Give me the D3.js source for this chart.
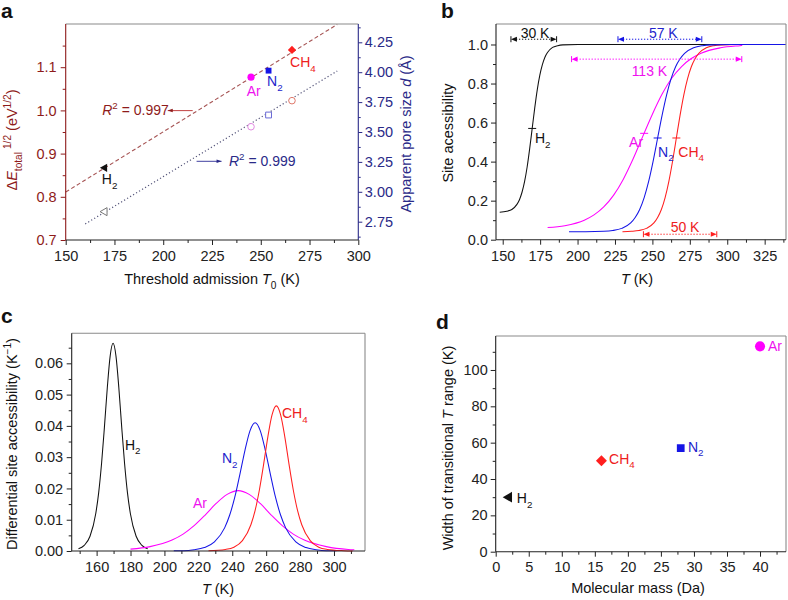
<!DOCTYPE html>
<html><head><meta charset="utf-8">
<script src="https://cdn.jsdelivr.net/npm/d3@7"></script>
<style>body{margin:0;background:#fff} svg{display:block}</style>
</head><body><svg id="chart" width="788" height="600"></svg>
<script>
// ================= DATA =================
// Panel a: threshold admission T0 vs sqrt(ΔE) and apparent pore size
const gasesA = ["H2", "Ar", "N2", "CH4"];
const t0 = [170, 245, 254, 266];
const energyRoot = [0.867, 1.077, 1.092, 1.140];
const poreSize = [2.834, 3.544, 3.642, 3.762];
const energyFitT = [150, 289.2];
const energyFitV = [0.811, 1.199];
const poreFitT = [160, 289.2];
const poreFitV = [2.731, 4.010];
const aXTicks = [150, 175, 200, 225, 250, 275, 300];
const aYTicks = [0.7, 0.8, 0.9, 1.0, 1.1];
const aY2Ticks = [2.75, 3.00, 3.25, 3.50, 3.75, 4.00, 4.25];
const aLabelT = [168.5, 242.8, 253.2, 265];
const aLabelV = [0.829, 1.033, 1.056, 1.100];
const r2Text = ["0.997", "0.999"];

// Panel b: site accessibility vs T  ([T (K), accessibility])
const bH2 = [[148,0.141],[152.7,0.146],[156.1,0.155],[159.5,0.181],[161.2,0.205],[162.9,0.243],[164.6,0.297],[166.3,0.371],[168.0,0.465],[169.7,0.570],[171.4,0.675],[173.1,0.769],[174.8,0.843],[176.5,0.897],[178.2,0.935],[179.9,0.959],[183.3,0.985],[186.7,0.994],[190.1,0.998],[200.3,1.0],[339,1.0]];
const bAr = [[180,0.062],[191.5,0.072],[204.5,0.100],[211,0.127],[217.5,0.168],[224,0.227],[230.5,0.309],[237,0.412],[243.5,0.528],[250,0.643],[256.5,0.746],[263,0.828],[269.5,0.887],[276,0.928],[282.5,0.955],[295.5,0.983],[308.5,0.994],[310,0.995]];
const bN2 = [[194.3,0.041],[205.5,0.041],[217.5,0.043],[223.5,0.047],[229.5,0.058],[235.5,0.086],[238.5,0.114],[241.5,0.155],[244.5,0.216],[247.5,0.299],[250.5,0.403],[253.5,0.521],[256.5,0.638],[259.5,0.742],[262.5,0.825],[265.5,0.886],[268.5,0.927],[271.5,0.955],[277.5,0.983],[283.5,0.994],[289.5,0.998],[301.5,1.0],[339,1.0]];
const bCH4 = [[230,0.041],[236,0.043],[241,0.047],[246,0.058],[251,0.086],[253.5,0.114],[256,0.155],[258.5,0.216],[261,0.299],[263.5,0.403],[266,0.521],[268.5,0.638],[271,0.742],[273.5,0.825],[276,0.886],[278.5,0.927],[281,0.955],[286,0.983],[291,0.994],[296,0.998],[306,1.0],[320,1.0]];
const bMidT = [169.7, 244.5, 253.5, 266];
const bMidV = [0.570, 0.545, 0.521, 0.521];
const bLabelT = [171.5, 243.8, 253.8, 267.3];
const bLabelV = [0.493, 0.476, 0.425, 0.425];
const bXTicks = [150, 175, 200, 225, 250, 275, 300, 325];
const bYTicks = [0.0, 0.2, 0.4, 0.6, 0.8, 1.0];
const spanText = ["30 K", "57 K", "113 K", "50 K"];
const spanFrom = [155.5, 227, 196, 244];
const spanTo = [186, 283, 309.7, 293];
const spanLevel = [1.027, 1.027, 0.925, 0.028];
const spanLabelT = [171.6, 257.3, 248, 271.8];
const spanLabelV = [1.034, 1.034, 0.838, 0.041];

// Panel c: differential site accessibility ([T (K), K^-1])
const cH2 = [[149.3,0.0007],[152.7,0.0018],[156.1,0.0047],[159.5,0.0120],[161.2,0.0186],[162.9,0.0279],[164.6,0.0396],[166.3,0.0522],[168.0,0.0624],[169.7,0.0664],[171.4,0.0624],[173.1,0.0522],[174.8,0.0396],[176.5,0.0279],[178.2,0.0186],[179.9,0.0120],[183.3,0.0047],[186.7,0.0018],[190.1,0.0007]];
const cAr = [[180,0.0006],[191.5,0.0014],[204.5,0.0035],[211,0.0054],[217.5,0.0081],[224,0.0115],[230.5,0.0152],[237,0.0181],[243.5,0.0193],[250,0.0181],[256.5,0.0152],[263,0.0115],[269.5,0.0081],[276,0.0054],[282.5,0.0035],[295.5,0.0014],[308.5,0.0005],[312,0.0004]];
const cN2 = [[205.5,0.0001],[211.5,0.0001],[217.5,0.0004],[223.5,0.0011],[229.5,0.0029],[235.5,0.0074],[238.5,0.0115],[241.5,0.0172],[244.5,0.0245],[247.5,0.0322],[250.5,0.0385],[253.5,0.0410],[256.5,0.0385],[259.5,0.0322],[262.5,0.0245],[265.5,0.0172],[268.5,0.0115],[271.5,0.0074],[277.5,0.0029],[283.5,0.0011],[289.5,0.0004],[295.5,0.0001],[301.5,0.0001]];
const cCH4 = [[226,0.0001],[236,0.0005],[241,0.0012],[246,0.0033],[251,0.0084],[253.5,0.0130],[256,0.0195],[258.5,0.0277],[261,0.0365],[263.5,0.0436],[266,0.0464],[268.5,0.0436],[271,0.0365],[273.5,0.0277],[276,0.0195],[278.5,0.0130],[281,0.0084],[286,0.0033],[291,0.0012],[296,0.0005],[306,0.0001],[311,0.0000]];
const cLabelT = [176.7, 216.8, 233.9, 269.3];
const cLabelV = [0.0323, 0.0137, 0.0280, 0.0424];
const cXTicks = [160, 180, 200, 220, 240, 260, 280, 300];
const cYTicks = [0.00, 0.01, 0.02, 0.03, 0.04, 0.05, 0.06];

// Panel d: width of transitional T range vs molecular mass
const gasesD = ["H2", "CH4", "N2", "Ar"];
const molMass = [2, 16, 28, 40];
const widthT = [30, 50, 57, 113];
const dLabelM = [3.2, 17.15, 29.1, 41.2];
const dLabelW = [26.6, 48.3, 55.0, 110.6];
const dXTicks = [0, 5, 10, 15, 20, 25, 30, 35, 40];
const dYTicks = [0, 20, 40, 60, 80, 100];

// ================= STYLE =================
const FONT = "'Liberation Sans', Arial, Helvetica, sans-serif";
const TFS = 14.5;
const COL = {H2: "#111111", Ar: "#ff00ff", N2: "#1515e6", CH4: "#ff1f1f"};
const LABCOL = {H2: "#111111", Ar: "#ee11ee", N2: "#2323cc", CH4: "#ee2020"};
const DARKRED = "#8e1b1b", NAVY = "#2a2a88", BORDER = "#8a8a8a", AXIS = "#222";

const svg = d3.select("#chart").attr("font-family", FONT);

function rich(sel, parts, size) {
  let shift = 0;
  parts.forEach(p => {
    const target = p.sub ? size * 0.32 : p.sup ? -size * 0.42 : 0;
    const ts = sel.append("tspan").text(p.t).attr("dy", target - shift);
    if (p.dx) ts.attr("dx", p.dx);
    shift = target;
    if (p.sub || p.sup) ts.style("font-size", (size * 0.7) + "px");
    if (p.i) ts.style("font-style", "italic");
  });
  return sel;
}
function gasParts(name) {
  const m = name.match(/^([A-Za-z]+?)(\d*)$/);
  if (!m[2]) return [{t: name}];
  return [{t: m[1]}, {t: m[2], sub: true}];
}
function drawAxis(parent, orient, scale, pos, majors, minors, fmt, color, pad, len) {
  len = len || 5;
  const ctor = {bottom: d3.axisBottom, left: d3.axisLeft, right: d3.axisRight}[orient];
  const tr = orient === "bottom" ? `translate(0,${pos})` : `translate(${pos},0)`;
  const gmin = parent.append("g").attr("transform", tr)
    .call(ctor(scale).tickValues(minors).tickSize(len * 0.6).tickFormat(""));
  gmin.select(".domain").remove();
  gmin.selectAll("line").attr("stroke", color);
  const g = parent.append("g").attr("transform", tr)
    .call(ctor(scale).tickValues(majors).tickSize(len).tickPadding(pad).tickFormat(fmt));
  g.select(".domain").remove();
  g.attr("font-family", FONT).attr("font-size", TFS);
  g.selectAll("line").attr("stroke", color);
  g.selectAll("text").attr("fill", color);
  return g;
}
function box(x0, x1, y0, y1, cl, cb, cr, ct) {
  const g = svg.append("g").attr("stroke-width", 1.1);
  g.append("line").attr("x1", x0).attr("x2", x1).attr("y1", y0).attr("y2", y0).attr("stroke", ct);
  g.append("line").attr("x1", x1).attr("x2", x1).attr("y1", y0).attr("y2", y1).attr("stroke", cr);
  g.append("line").attr("x1", x0).attr("x2", x1).attr("y1", y1).attr("y2", y1).attr("stroke", cb);
  g.append("line").attr("x1", x0).attr("x2", x0).attr("y1", y0).attr("y2", y1).attr("stroke", cl);
}
function panelLetter(t, x, y) {
  svg.append("text").attr("x", x).attr("y", y).text(t)
    .attr("font-weight", "bold").attr("font-size", 21).attr("fill", "#111");
}
function rotTitle(x, y, parts, color) {
  rich(svg.append("text").attr("transform", `translate(${x},${y}) rotate(-90)`)
    .attr("text-anchor", "middle").attr("font-size", TFS).attr("fill", color || "#111"), parts, TFS);
}
function hTitle(x, y, parts, color) {
  rich(svg.append("text").attr("x", x).attr("y", y)
    .attr("text-anchor", "middle").attr("font-size", TFS).attr("fill", color || "#111"), parts, TFS);
}
function marker(g, shape, x, y, size, fill, stroke) {
  let p, rot = 0;
  if (shape === "tri") { p = d3.symbol(d3.symbolTriangle, size)(); rot = -90; }
  else if (shape === "circle") p = d3.symbol(d3.symbolCircle, size)();
  else if (shape === "square") p = d3.symbol(d3.symbolSquare, size)();
  else if (shape === "diamond") { p = d3.symbol(d3.symbolSquare, size)(); rot = 45; }
  g.append("path").attr("d", p).attr("transform", `translate(${x},${y}) rotate(${rot})`)
    .attr("fill", fill).attr("stroke", stroke || "none").attr("stroke-width", 1);
}
const shapeOf = {H2: "tri", Ar: "circle", N2: "square", CH4: "diamond"};
const lineGen = (xs, ys) => d3.line().x(d => xs(d[0])).y(d => ys(d[1])).curve(d3.curveMonotoneX);

// ================= PANEL A =================
{
  const x = d3.scaleLinear().domain([150, 300]).range([65.7, 358.3]);
  const y = d3.scaleLinear().domain([0.7, 1.2]).range([240, 24]);
  const y2 = d3.scaleLinear().domain([2.597, 4.403]).range([240, 24]);
  const g = svg.append("g");
  box(65.7, 358.3, 24, 240, DARKRED, AXIS, NAVY, BORDER);
  drawAxis(g, "bottom", x, 240, aXTicks, d3.range(162.5, 300, 25), d3.format("d"), AXIS, 5.5);
  drawAxis(g, "left", y, 65.7, aYTicks, [0.75, 0.85, 0.95, 1.05, 1.15], d3.format(".1f"), DARKRED, 4);
  drawAxis(g, "right", y2, 358.3, aY2Ticks, [2.625, 2.875, 3.125, 3.375, 3.625, 3.875, 4.125, 4.375], d3.format(".2f"), NAVY, 2.5, 4);

  g.append("path").datum(energyFitT.map((t, i) => [t, energyFitV[i]]))
    .attr("d", d3.line().x(d => x(d[0])).y(d => y(d[1])))
    .attr("fill", "none").attr("stroke", "#a65454").attr("stroke-width", 1.1).attr("stroke-dasharray", "4,2.5");
  g.append("path").datum(poreFitT.map((t, i) => [t, poreFitV[i]]))
    .attr("d", d3.line().x(d => x(d[0])).y(d => y2(d[1])))
    .attr("fill", "none").attr("stroke", "#55557a").attr("stroke-width", 1.2).attr("stroke-dasharray", "1.2,2.3");

  const openCol = {H2: "#777777", Ar: "#e28ae2", N2: "#6a6ad6", CH4: "#e0786a"};
  const openShape = {H2: "tri", Ar: "circle", N2: "square", CH4: "circle"};
  gasesA.forEach((gas, i) => {
    marker(g, openShape[gas], x(t0[i]), y2(poreSize[i]), gas === "H2" ? 28 : 34, "#fff", openCol[gas]);
    marker(g, shapeOf[gas], x(t0[i]), y(energyRoot[i]), gas === "H2" ? 30 : gas === "Ar" ? 40 : 34, COL[gas]);
    rich(g.append("text").attr("x", x(aLabelT[i])).attr("y", y(aLabelV[i]))
      .attr("font-size", 14).attr("fill", LABCOL[gas]), gasParts(gas), 14);
  });

  // R^2 annotations
  const defs = svg.append("defs");
  [["arrDR", DARKRED], ["arrNV", NAVY]].forEach(([id, c]) => {
    defs.append("marker").attr("id", id).attr("viewBox", "0 0 10 10").attr("refX", 10).attr("refY", 5)
      .attr("markerWidth", 7).attr("markerHeight", 5).attr("orient", "auto")
      .append("path").attr("d", "M0,1.5L10,5L0,8.5z").attr("fill", c);
  });
  rich(g.append("text").attr("x", x(168.7)).attr("y", y(0.9887)).attr("font-size", 14).attr("fill", DARKRED),
    [{t: "R", i: true}, {t: "2", sup: true}, {t: " = " + r2Text[0]}], 14);
  g.append("line").attr("x1", x(215.1)).attr("x2", x(202.3)).attr("y1", y(0.9995)).attr("y2", y(0.9995))
    .attr("stroke", "#c04040").attr("stroke-width", 1).attr("marker-end", "url(#arrDR)");
  rich(g.append("text").attr("x", x(233.7)).attr("y", y2(3.218)).attr("font-size", 14).attr("fill", NAVY),
    [{t: "R", i: true}, {t: "2", sup: true}, {t: " = " + r2Text[1]}], 14);
  g.append("line").attr("x1", x(217.1)).attr("x2", x(229.9)).attr("y1", y2(3.255)).attr("y2", y2(3.255))
    .attr("stroke", "#4040a0").attr("stroke-width", 1).attr("marker-end", "url(#arrNV)");

  hTitle(212, 284, [{t: "Threshold admission "}, {t: "T", i: true}, {t: "0", sub: true}, {t: " (K)"}]);
  rotTitle(17, 140, [{t: "Δ"}, {t: "E", i: true}, {t: "total", sub: true}, {t: "1/2", sup: true, dx: 3}, {t: " (eV"}, {t: "1/2", sup: true}, {t: ")"}], DARKRED);
  rotTitle(411, 134, [{t: "Apparent pore size "}, {t: "d", i: true}, {t: " (Å)"}], NAVY);
  panelLetter("a", 1, 18);
}

// ================= PANEL B =================
{
  const x = d3.scaleLinear().domain([145.52, 339.25]).range([496, 786]);
  const y = d3.scaleLinear().domain([0, 1.105]).range([239.7, 24]);
  const g = svg.append("g");
  box(496, 786, 24, 239.7, AXIS, AXIS, BORDER, BORDER);
  drawAxis(g, "bottom", x, 239.7, bXTicks, d3.range(162.5, 339, 25), d3.format("d"), AXIS, 6);
  drawAxis(g, "left", y, 496, bYTicks, [0.1, 0.3, 0.5, 0.7, 0.9], d3.format(".1f"), AXIS, 3);

  const series = {H2: bH2, Ar: bAr, CH4: bCH4, N2: bN2};
  ["H2", "Ar", "CH4", "N2"].forEach(gas => {
    g.append("path").datum(series[gas]).attr("d", lineGen(x, y))
      .attr("fill", "none").attr("stroke", COL[gas]).attr("stroke-width", 1.05);
  });
  gasesA.forEach((gas, i) => {
    g.append("line").attr("x1", x(bMidT[i]) - 4).attr("x2", x(bMidT[i]) + 4)
      .attr("y1", y(bMidV[i])).attr("y2", y(bMidV[i])).attr("stroke", COL[gas]).attr("stroke-width", 1);
    rich(g.append("text").attr("x", x(bLabelT[i])).attr("y", y(bLabelV[i]))
      .attr("text-anchor", gas === "Ar" ? "end" : "start")
      .attr("font-size", 14).attr("fill", LABCOL[gas]), gasParts(gas), 14);
  });
  const spanCol = ["#111111", "#1515e6", "#ff00ff", "#ff1f1f"];
  const spanTextCol = ["#111111", "#2323cc", "#ee11ee", "#ee2020"];
  spanText.forEach((t, i) => {
    const x1 = x(spanFrom[i]), x2 = x(spanTo[i]), yy = y(spanLevel[i]), c = spanCol[i];
    g.append("line").attr("x1", x1 + 5).attr("x2", x2 - 5).attr("y1", yy).attr("y2", yy)
      .attr("stroke", c).attr("stroke-width", 1).attr("stroke-dasharray", "1.3,1.7");
    [[x1, 1], [x2, -1]].forEach(([xe, dir]) => {
      g.append("line").attr("x1", xe).attr("x2", xe).attr("y1", yy - 3).attr("y2", yy + 3)
        .attr("stroke", c).attr("stroke-width", 1);
      g.append("path").attr("d", `M${xe},${yy}L${xe + dir * 6},${yy - 2.6}L${xe + dir * 6},${yy + 2.6}Z`).attr("fill", c);
    });
    g.append("text").attr("x", x(spanLabelT[i])).attr("y", y(spanLabelV[i]))
      .attr("text-anchor", "middle").attr("font-size", 14).attr("fill", spanTextCol[i]).text(t);
  });

  hTitle(637, 284, [{t: "T", i: true}, {t: " (K)"}]);
  rotTitle(453, 133, [{t: "Site acessibility"}]);
  panelLetter("b", 441, 18);
}

// ================= PANEL C =================
{
  const x = d3.scaleLinear().domain([145.3, 318.3]).range([71.7, 365]);
  const y = d3.scaleLinear().domain([0, 0.0696]).range([551, 333.3]);
  const g = svg.append("g");
  box(71.7, 365, 333.3, 551, AXIS, AXIS, BORDER, BORDER);
  drawAxis(g, "bottom", x, 551, cXTicks, d3.range(150, 318, 20), d3.format("d"), AXIS, 6);
  drawAxis(g, "left", y, 71.7, cYTicks, d3.range(0.005, 0.069, 0.01), d3.format(".2f"), AXIS, 3.5);

  const series = {H2: cH2, Ar: cAr, N2: cN2, CH4: cCH4};
  ["H2", "Ar", "N2", "CH4"].forEach(gas => {
    g.append("path").datum(series[gas]).attr("d", lineGen(x, y))
      .attr("fill", "none").attr("stroke", COL[gas]).attr("stroke-width", 1.05);
  });
  ["H2", "Ar", "N2", "CH4"].forEach((gas, i) => {
    rich(g.append("text").attr("x", x(cLabelT[i])).attr("y", y(cLabelV[i]))
      .attr("font-size", 14).attr("fill", LABCOL[gas]), gasParts(gas), 14);
  });
  hTitle(218, 594, [{t: "T", i: true}, {t: " (K)"}]);
  rotTitle(17, 444, [{t: "Differential site accessibility (K"}, {t: "−1", sup: true}, {t: ")"}]);
  panelLetter("c", 1, 323);
}

// ================= PANEL D =================
{
  const x = d3.scaleLinear().domain([0, 43.93]).range([495.7, 786]);
  const y = d3.scaleLinear().domain([0, 118.7]).range([551.7, 336]);
  const g = svg.append("g");
  box(495.7, 786, 336, 551.7, AXIS, AXIS, BORDER, BORDER);
  drawAxis(g, "bottom", x, 551.7, dXTicks, d3.range(2.5, 44, 5), d3.format("d"), AXIS, 5);
  drawAxis(g, "left", y, 495.7, dYTicks, d3.range(10, 118, 20), d3.format("d"), AXIS, 3);

  const sizes = {H2: 50, CH4: 60, N2: 60, Ar: 80};
  gasesD.forEach((gas, i) => {
    marker(g, shapeOf[gas], x(molMass[i]), y(widthT[i]), sizes[gas], COL[gas]);
    rich(g.append("text").attr("x", x(dLabelM[i])).attr("y", y(dLabelW[i]))
      .attr("font-size", 14).attr("fill", LABCOL[gas]), gasParts(gas), 14);
  });
  hTitle(638, 593, [{t: "Molecular mass (Da)"}]);
  rotTitle(453, 448, [{t: "Width of transitional "}, {t: "T", i: true}, {t: " range (K)"}]);
  panelLetter("d", 436, 329);
}
</script></body></html>
